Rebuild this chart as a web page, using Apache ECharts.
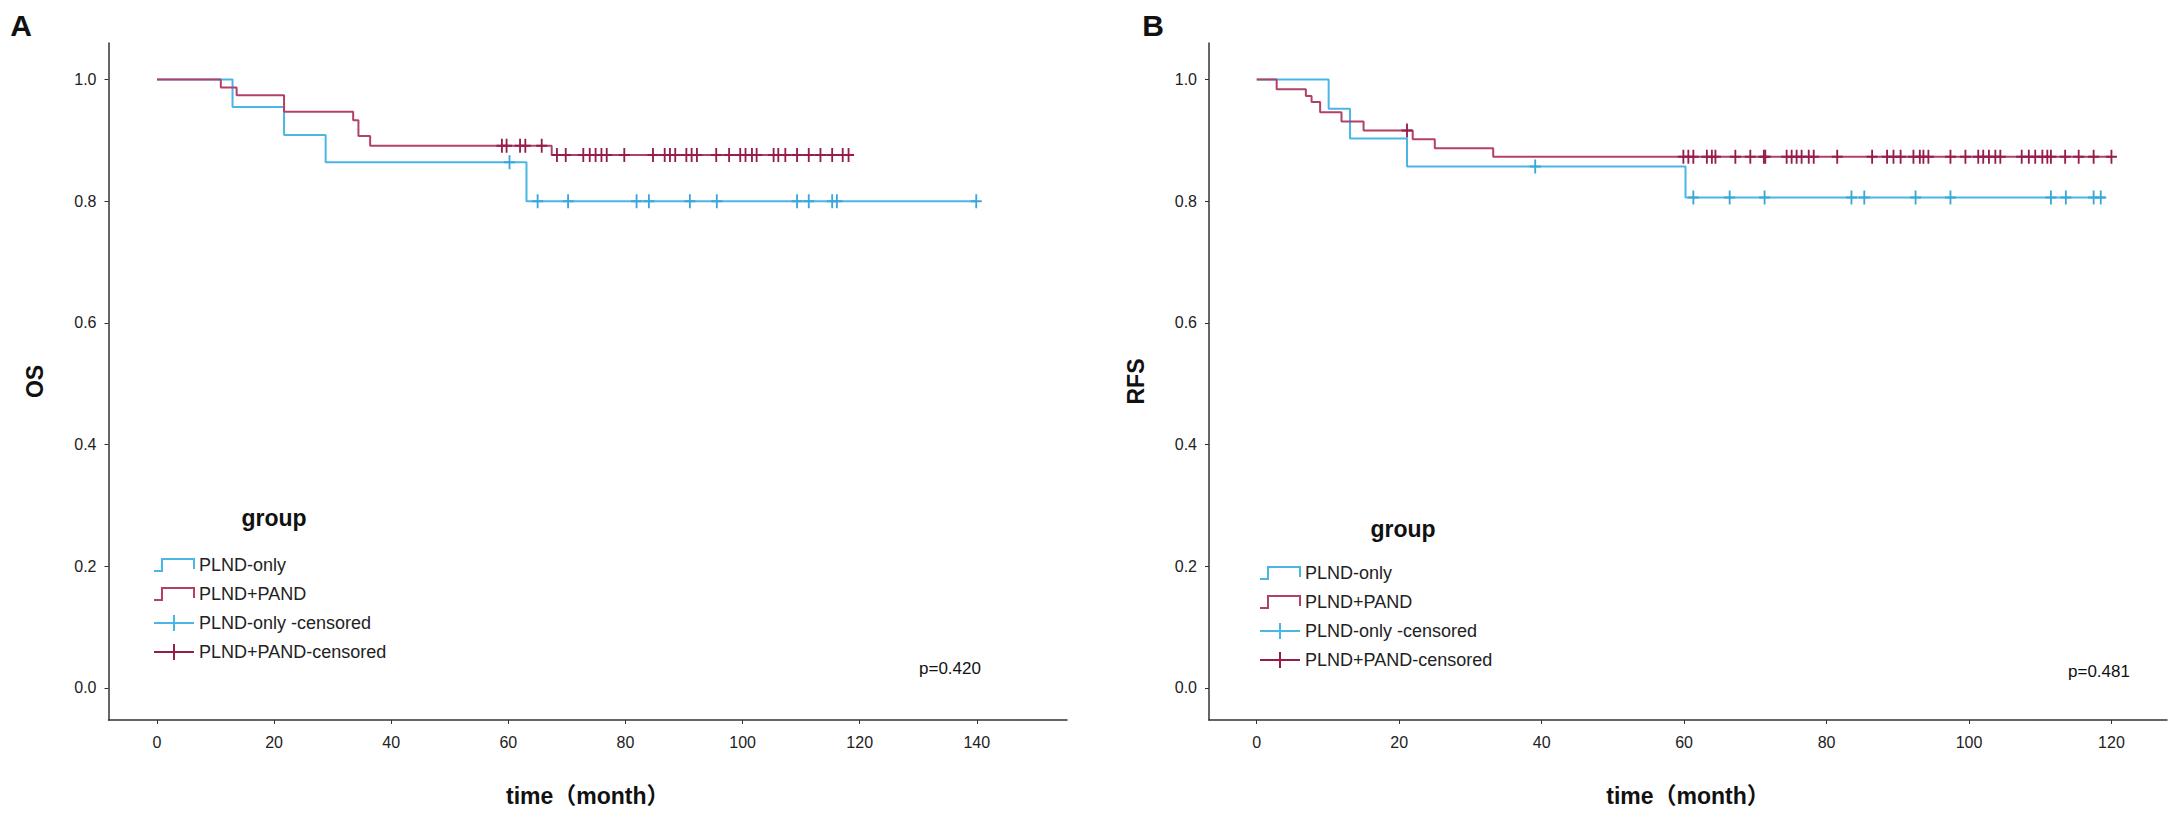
<!DOCTYPE html>
<html><head><meta charset="utf-8">
<script src="https://cdn.jsdelivr.net/npm/echarts@6/dist/echarts.min.js"></script>
<style>html,body{margin:0;padding:0;background:#fff}#c{width:2178px;height:824px}</style>
</head><body><div id="c"></div>
<script>
// ---- tick labels ----
const xTicksA = [0, 20, 40, 60, 80, 100, 120, 140];
const xTicksB = [0, 20, 40, 60, 80, 100, 120];
const yTicks = [0, 0.2, 0.4, 0.6, 0.8, 1.0];
const groupNames = ['PLND-only', 'PLND+PAND', 'PLND-only -censored', 'PLND+PAND-censored'];

// ---- Panel A: OS, Kaplan-Meier steps [month, survival] ----
const osOnly = [[0,1],[12.9,0.955],[21.7,0.909],[28.8,0.864],[63.1,0.80],[140,0.80]];
const osPand = [[0,1],[10.9,0.987],[13.6,0.974],[21.7,0.947],[33.5,0.933],[34.4,0.907],[36.4,0.891],[67.4,0.876],[119,0.876]];
const osOnlyCens = [60.2,65,70.2,81.9,84,91,95.6,109.3,111.3,115.3,116.1,139.9];
const osPandCens = [58.9,59.7,62.0,62.9,65.7,68.3,69.8,72.8,73.9,74.9,75.9,76.8,79.8,84.7,86.7,87.6,88.5,90.4,91.3,92.2,95.5,97.7,99.6,100.5,101.6,102.4,105.3,106.1,107.3,109.3,111.3,113.3,115.3,117.1,118.1];

// ---- Panel B: RFS ----
const rfsOnly = [[0,1],[10.1,0.952],[13.1,0.903],[21.1,0.857],[60.2,0.806],[119.1,0.806]];
const rfsPand = [[0,1],[2.8,0.984],[6.9,0.973],[7.7,0.963],[8.9,0.946],[11.9,0.931],[15.0,0.916],[21.9,0.902],[25.0,0.887],[33.2,0.873],[120,0.873]];
const rfsOnlyCens = [39.1,61.3,66.4,71.3,83.5,85.3,92.5,97.4,111.5,113.6,117.5,118.5];
const rfsPandCens = [21.1,59.9,60.6,61.3,63.2,63.9,64.4,67.2,69.3,71.2,71.4,74.4,75.1,75.8,76.5,77.5,78.2,81.5,86.4,88.5,89.4,90.4,92.2,93.1,93.6,94.3,97.4,99.5,101.3,102.0,102.8,103.7,104.4,107.4,108.4,109.3,110.3,111.0,111.5,113.5,115.4,117.5,120];

const pValueA = 'p=0.420';
const pValueB = 'p=0.481';

// ---- helpers ----
function levelAt(steps, t) {
  let v = steps[0][1];
  for (const s of steps) { if (s[0] <= t) v = s[1]; }
  return v;
}
function censPoints(steps, times) { return times.map(t => [t, levelAt(steps, t)]); }

const CYAN = '#4AB6E6', CYAN_D = '#3AA6DA';
const RED = '#B2416A', RED_D = '#961C4C';
const FONT = '"Liberation Sans", Arial, "Noto Sans CJK SC", sans-serif';
const plusPath = 'path://M5,0H7V6H12V8H7V14H5V8H0V6H5Z';
const stepIcon = 'path://M0,14L8,14L8,2L40,2L40,12';
const censIcon = 'path://M0,8L40,8M20,0L20,16';

function xAxis(idx, min, max, ticks) {
  return {
    type: 'value', gridIndex: idx, min: min, max: max,
    name: 'time（month）', nameLocation: 'middle', nameGap: 64,
    nameTextStyle: { fontFamily: FONT, fontSize: 23, fontWeight: 'bold', color: '#111' },
    axisLine: { show: true, onZero: false, lineStyle: { color: '#333', width: 1.5 } },
    axisTick: { show: true, customValues: ticks, length: 4, lineStyle: { color: '#333' } },
    axisLabel: { customValues: ticks, fontFamily: FONT, fontSize: 16, color: '#222', margin: 14 },
    splitLine: { show: false }
  };
}
function yAxis(idx, name) {
  return {
    type: 'value', gridIndex: idx, min: -0.0526, max: 1.06,
    name: name, nameLocation: 'middle', nameGap: 62, nameRotate: 90,
    nameTextStyle: { fontFamily: FONT, fontSize: 23, fontWeight: 'bold', color: '#111' },
    axisLine: { show: true, onZero: false, lineStyle: { color: '#333', width: 1.5 } },
    axisTick: { show: true, customValues: yTicks, length: 4, lineStyle: { color: '#333' } },
    axisLabel: { customValues: yTicks, formatter: v => v.toFixed(1), fontFamily: FONT, fontSize: 16, color: '#222', margin: 12 },
    splitLine: { show: false }
  };
}
function stepSeries(name, idx, data, color) {
  return { name: name, type: 'line', step: 'end', xAxisIndex: idx, yAxisIndex: idx, data: data,
    showSymbol: false, symbol: 'none', lineStyle: { color: color, width: 2 }, itemStyle: { color: color }, z: 2 };
}
function censSeries(name, idx, data, color) {
  return { name: name, type: 'scatter', xAxisIndex: idx, yAxisIndex: idx, data: data,
    symbol: plusPath, symbolSize: [11, 14], itemStyle: { color: color, opacity: 1 }, z: 3 };
}
function legend(left, top) {
  return {
    orient: 'vertical', left: left, top: top, itemWidth: 40, itemHeight: 16, itemGap: 11,
    selectedMode: false,
    textStyle: { fontFamily: FONT, fontSize: 18, color: '#222', lineHeight: 18 },
    data: [
      { name: groupNames[0], icon: stepIcon, itemStyle: { color: 'transparent', borderColor: CYAN, borderWidth: 2 } },
      { name: groupNames[1], icon: stepIcon, itemStyle: { color: 'transparent', borderColor: RED, borderWidth: 2 } },
      { name: groupNames[2], icon: censIcon, itemStyle: { color: 'transparent', borderColor: CYAN, borderWidth: 2 } },
      { name: groupNames[3], icon: censIcon, itemStyle: { color: 'transparent', borderColor: RED_D, borderWidth: 2 } }
    ]
  };
}
function txt(x, y, s, size, weight, align) {
  return { type: 'text', x: x, y: y, style: { text: s, fontFamily: FONT, fontSize: size, fontWeight: weight,
    fill: '#111', align: align || 'center', verticalAlign: 'middle' } };
}

const chart = echarts.init(document.getElementById('c'), null, { renderer: 'svg' });
chart.setOption({
  animation: false,
  backgroundColor: '#fff',
  grid: [
    { left: 108.5, top: 43, width: 958.5, height: 677 },
    { left: 1209, top: 43, width: 958, height: 677 }
  ],
  xAxis: [xAxis(0, -8.28, 155.4, xTicksA), xAxis(1, -6.7, 127.8, xTicksB)],
  yAxis: [yAxis(0, 'OS'), yAxis(1, 'RFS')],
  legend: [legend(148, 551), legend(1254, 559)],
  graphic: [
    txt(21, 25, 'A', 30, 'bold'),
    txt(1153, 25, 'B', 30, 'bold'),
    txt(274, 518, 'group', 23, 'bold'),
    txt(1403, 529, 'group', 23, 'bold'),
    txt(950, 668, pValueA, 17, 'normal'),
    txt(2099, 671, pValueB, 17, 'normal')
  ],
  series: [
    stepSeries(groupNames[0], 0, osOnly, CYAN),
    stepSeries(groupNames[1], 0, osPand, RED),
    censSeries(groupNames[2], 0, censPoints(osOnly, osOnlyCens), CYAN_D),
    censSeries(groupNames[3], 0, censPoints(osPand, osPandCens), RED_D),
    stepSeries(groupNames[0], 1, rfsOnly, CYAN),
    stepSeries(groupNames[1], 1, rfsPand, RED),
    censSeries(groupNames[2], 1, censPoints(rfsOnly, rfsOnlyCens), CYAN_D),
    censSeries(groupNames[3], 1, censPoints(rfsPand, rfsPandCens), RED_D)
  ]
});
</script>
</body></html>
